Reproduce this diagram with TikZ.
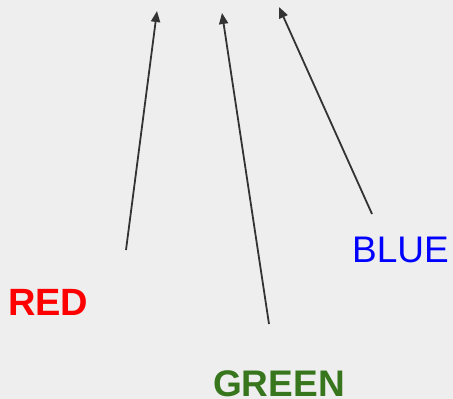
\documentclass[tikz,border=0pt]{standalone}
\usepackage{fontspec}
\setmainfont{Liberation Sans}
\usetikzlibrary{arrows.meta}
\definecolor{bg}{HTML}{EEEEEE}
\definecolor{arr}{HTML}{333333}
\definecolor{gr}{HTML}{38761D}
\begin{document}
\begin{tikzpicture}[x=1pt,y=-1pt,
  lbl/.style={anchor=base west,inner sep=0pt,font=\fontsize{37}{40}\selectfont},
  arrowline/.style={draw=arr,line width=1.8pt,-{Triangle[length=11pt,width=9pt]}}]
\fill[bg] (0,0) rectangle (453,399);
\useasboundingbox (0,0) rectangle (453,399);
\coordinate (r0) at (126,250);
\coordinate (r1) at (157,11);
\coordinate (g0) at (269,324);
\coordinate (g1) at (222,13);
\coordinate (b0) at (372,214);
\coordinate (b1) at (279,7);
\draw[arrowline] (r0) -- (r1);
\draw[arrowline] (g0) -- (g1);
\draw[arrowline] (b0) -- (b1);
\node[lbl,text=red,font=\fontsize{38}{40}\selectfont\bfseries] (red) at (8,315) {RED};
\node[lbl,text=gr,font=\fontsize{37}{40}\selectfont\bfseries] (green) at (213,396) {GREEN};
\node[lbl,text=blue] (blue) at (352,262) {BLUE};
\end{tikzpicture}
\end{document}
